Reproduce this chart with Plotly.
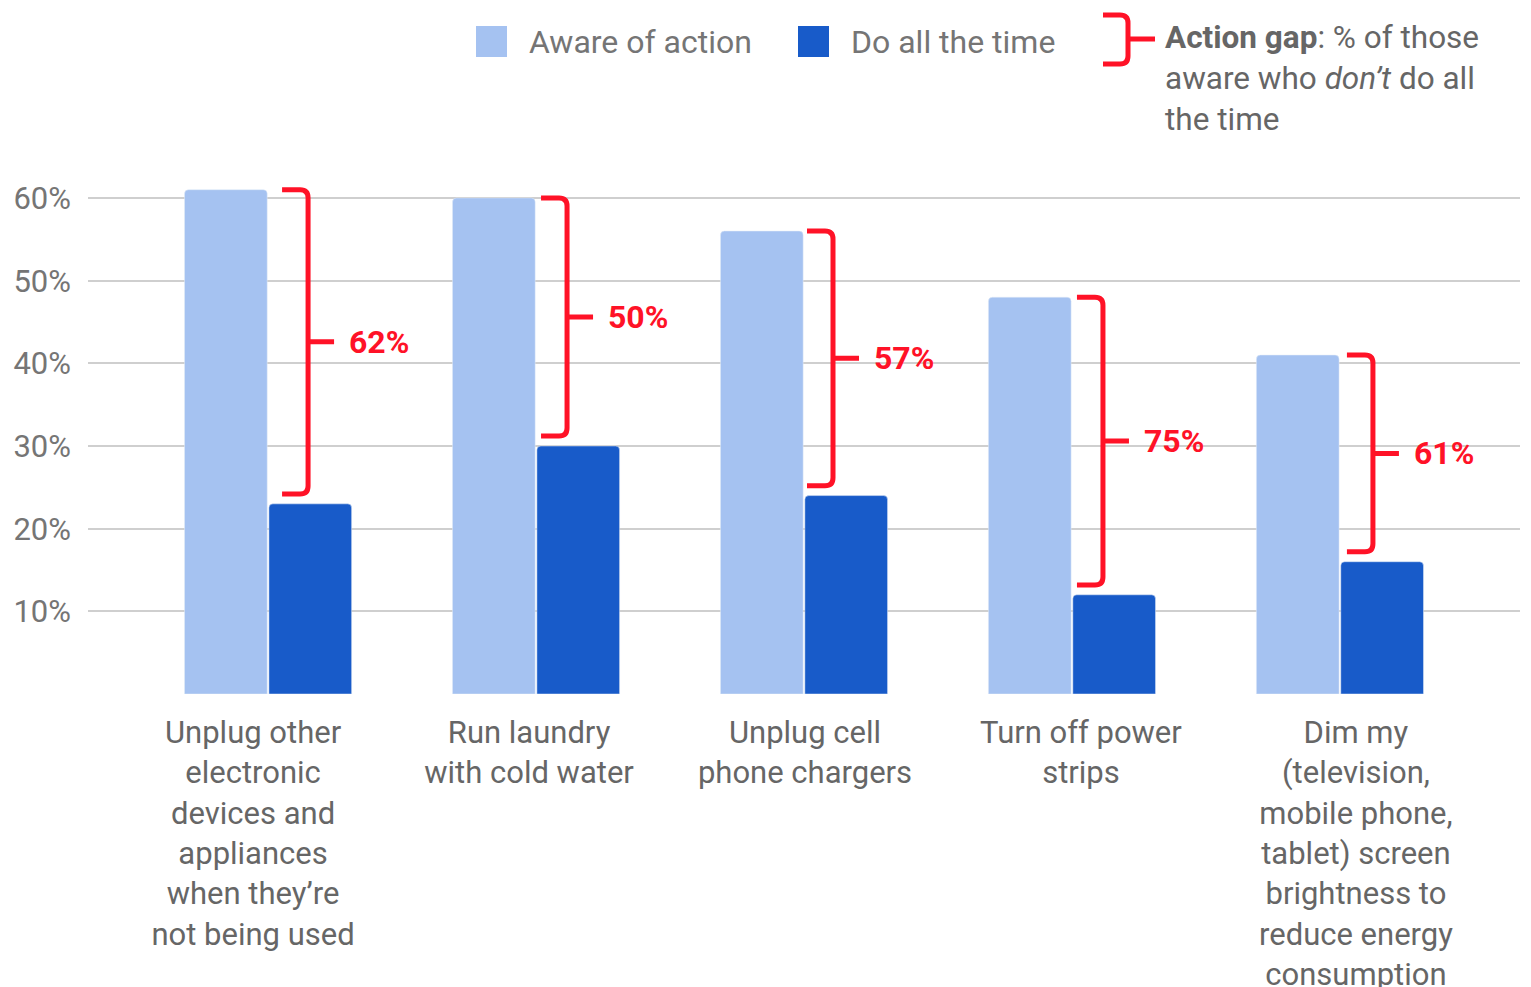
import plotly.graph_objects as go

# ---------------- data ----------------
categories = [
    "Unplug other<br>electronic<br>devices and<br>appliances<br>when they’re<br>not being used",
    "Run laundry<br>with cold water",
    "Unplug cell<br>phone chargers",
    "Turn off power<br>strips",
    "Dim my<br>(television,<br>mobile phone,<br>tablet) screen<br>brightness to<br>reduce energy<br>consumption",
]
aware = [0.61, 0.60, 0.56, 0.48, 0.41]
do_all = [0.23, 0.30, 0.24, 0.12, 0.16]
gap_labels = ["62%", "50%", "57%", "75%", "61%"]
y_ticks = [0.1, 0.2, 0.3, 0.4, 0.5, 0.6]
y_tick_text = ["10%", "20%", "30%", "40%", "50%", "60%"]

# ---------------- style ----------------
W, H = 1531, 987
L_PX, R_PX = 88, 1520          # plot area left/right in pixels
T_PX, B_PX = 150, 694          # plot area top/bottom in pixels
PX_PER_UNIT = 826.7            # pixels per 1.0 (100%)
X_MIN, X_MAX = -0.672, 4.672
PX_PER_CAT = (R_PX - L_PX) / (X_MAX - X_MIN)
LIGHT = "#a5c2f1"
DARK = "#185bc9"
RED = "#ff1227"
GRAY = "#757575"
TXT = "#666666"
FONT = "Roboto"
brace_dx = [9, 0, -2, 0, 2]          # small horizontal nudges of the braces (px)
label_dx = [-15, -7, 1, 9, 16]       # horizontal nudges of category labels (px)

x_idx = list(range(len(categories)))
label_pos = [i + dx / PX_PER_CAT for i, dx in zip(x_idx, label_dx)]

fig = go.Figure()
fig.add_bar(x=x_idx, y=aware, name="Aware of action", marker=dict(color=LIGHT, cornerradius=4),
            showlegend=False, hoverinfo="skip")
fig.add_bar(x=x_idx, y=do_all, name="Do all the time", marker=dict(color=DARK, cornerradius=4),
            showlegend=False, hoverinfo="skip")

# braces: x in pixels relative to the category, y in data units
ry = 8 / PX_PER_UNIT
for i, (a, d, lab) in enumerate(zip(aware, do_all, gap_labels)):
    top = a
    bot = d + 0.012
    mid = (top + bot) / 2
    dx = brace_dx[i]
    hx, vx, tx = 5 + dx, 31 + dx, 57 + dx
    path = (f"M {hx},{top} L {vx-8},{top} Q {vx},{top} {vx},{top-ry} "
            f"L {vx},{bot+ry} Q {vx},{bot} {vx-8},{bot} L {hx},{bot} "
            f"M {vx},{mid} L {tx},{mid}")
    fig.add_shape(type="path", xref="x", yref="y", xsizemode="pixel", xanchor=i,
                  path=path, line=dict(color=RED, width=5), layer="above")
    fig.add_annotation(x=i, y=mid, xref="x", yref="y", xshift=tx + 13, xanchor="left",
                       yanchor="middle", text=f"<b>{lab}</b>", showarrow=False,
                       font=dict(family=FONT, size=32, color=RED))

# helpers for pixel -> paper
def px(xp):
    return (xp - L_PX) / (R_PX - L_PX)

def py(yp):
    return (B_PX - yp) / (B_PX - T_PX)

# legend squares + texts
for x0, col, txt, tx in [(476, LIGHT, "Aware of action", 527), (798, DARK, "Do all the time", 849)]:
    fig.add_shape(type="rect", xref="paper", yref="paper", x0=px(x0), x1=px(x0 + 31),
                  y0=py(57), y1=py(26), fillcolor=col, line=dict(width=0))
    fig.add_annotation(x=px(tx), y=py(42), xref="paper", yref="paper", xanchor="left",
                       yanchor="middle", text=txt, showarrow=False,
                       font=dict(family=FONT, size=32, color=GRAY))

# legend brace
hx, vx, tx, yt, yb, ym = 1103, 1128, 1155, 15, 64, 39
def P(a, b):
    return f"{px(a)},{py(b)}"
lpath = (f"M {P(hx, yt)} L {P(vx-8, yt)} Q {P(vx, yt)} {P(vx, yt+8)} "
         f"L {P(vx, yb-8)} Q {P(vx, yb)} {P(vx-8, yb)} L {P(hx, yb)} "
         f"M {P(vx, ym)} L {P(tx, ym)}")
fig.add_shape(type="path", xref="paper", yref="paper", path=lpath,
              line=dict(color=RED, width=5))
fig.add_annotation(x=px(1163), y=py(17), xref="paper", yref="paper", xanchor="left",
                   yanchor="top", align="left", showarrow=False,
                   text="<b>Action gap</b>: % of those<br>aware who <i>don’t</i> do all<br>the time",
                   font=dict(family=FONT, size=31.5, color=TXT))

fig.update_layout(
    width=W, height=H,
    margin=dict(l=L_PX, r=W - R_PX, t=T_PX, b=H - B_PX, pad=0, autoexpand=False),
    paper_bgcolor="white", plot_bgcolor="white",
    barmode="group", bargap=0.37, bargroupgap=0.02,
    font=dict(family=FONT, color=TXT),
    xaxis=dict(range=[X_MIN, X_MAX], tickvals=label_pos, ticktext=categories,
               showgrid=False, zeroline=False, showline=False, ticks="",
               tickfont=dict(family=FONT, size=31, color=TXT), ticklabelstandoff=17,
               automargin=False, fixedrange=True),
    yaxis=dict(range=[0, (B_PX - T_PX) / PX_PER_UNIT], tickvals=y_ticks, ticktext=y_tick_text,
               showgrid=True, gridcolor="#cfcfcf", gridwidth=2, zeroline=False,
               showline=False, ticks="", ticklabelstandoff=16,
               tickfont=dict(family=FONT, size=31, color=GRAY), automargin=False,
               fixedrange=True),
)

fig.write_html("out.html")
